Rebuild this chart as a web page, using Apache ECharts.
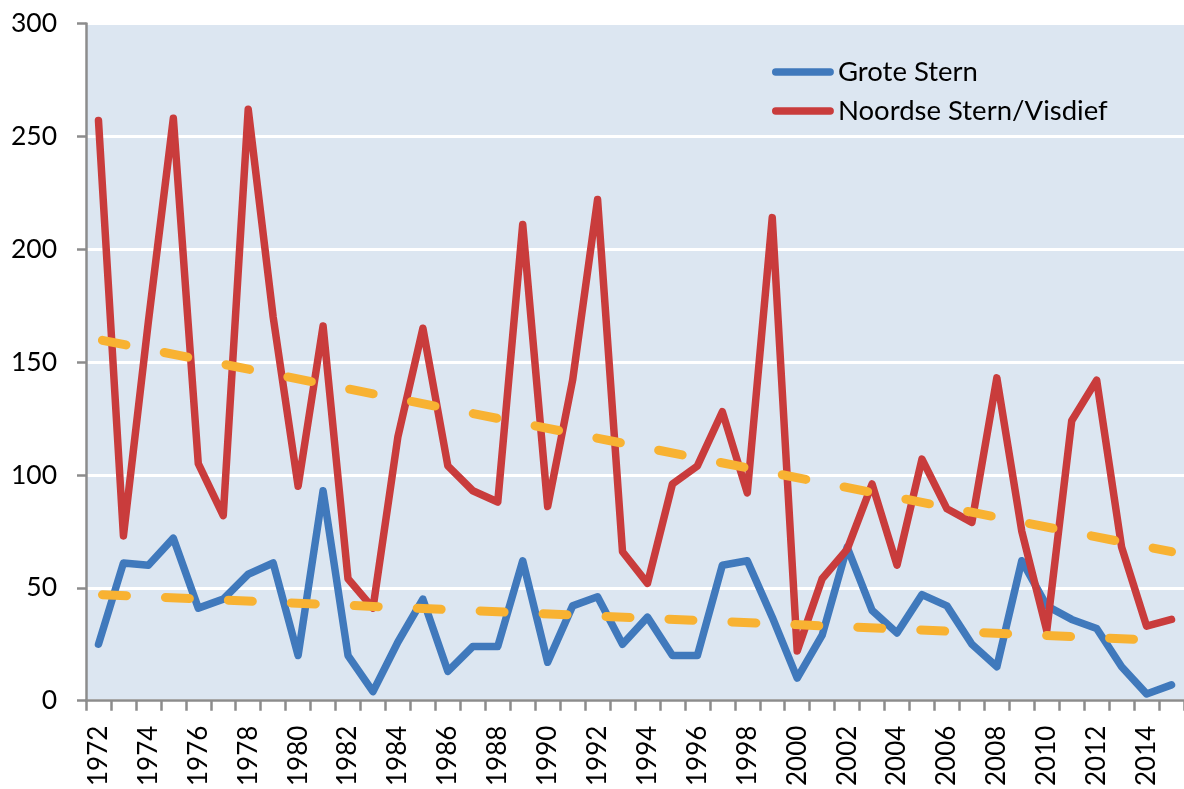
<!DOCTYPE html>
<html>
<head>
<meta charset="utf-8">
<script src="https://cdn.jsdelivr.net/npm/echarts@6/dist/echarts.min.js"></script>
<style>
html,body{margin:0;padding:0;background:#fff;}
#chart{width:1184px;height:789px;}
</style>
</head>
<body>
<div id="chart"></div>
<script>
var years = [];
for (var y = 1972; y <= 2015; y++) years.push(String(y));

var groteStern = [25, 61, 60, 72, 41, 45, 56, 61, 20, 93, 20, 4, 26, 45, 13, 24, 24, 62, 17, 42, 46, 25, 37, 20, 20, 60, 62, 37, 10, 29, 68, 40, 30, 47, 42, 25, 15, 62, 42, 36, 32, 15, 3, 7];
var noordseStern = [257, 73, 168, 258, 105, 82, 262, 170, 95, 166, 54, 41, 117, 165, 104, 93, 88, 211, 86, 142, 222, 66, 52, 96, 104, 128, 92, 214, 22, 54, 67, 96, 60, 107, 85, 79, 143, 75, 31, 124, 142, 68, 33, 36];
var trendGrote = [['1972', 47], ['2015', 26.5]];
var trendNoordse = [['1972', 160], ['2015', 66]];
var yTicks = [0, 50, 100, 150, 200, 250, 300];

var FONT = 'Lato, "Open Sans", sans-serif';
var BLUE = '#4079BC', RED = '#C93C3C', ORANGE = '#F8B232';
var CAPSULE = 'path://M4,0 L62,0 A4,4 0 0 1 62,8 L4,8 A4,4 0 0 1 4,0 Z';
var chart = echarts.init(document.getElementById('chart'), null, {renderer: 'canvas'});

var trendStyle = {
  color: ORANGE,
  width: 9,
  type: [24, 39],
  dashOffset: -4,
  cap: 'round'
};

chart.setOption({
  animation: false,
  backgroundColor: '#ffffff',
  grid: {
    left: 86, right: 0, top: 23.5, bottom: 87,
    show: true, backgroundColor: '#DCE6F1', borderWidth: 0,
    containLabel: false
  },
  legend: {
    data: [
      {name: 'Grote Stern', icon: CAPSULE, itemStyle: {color: BLUE}},
      {name: 'Noordse Stern/Visdief', icon: CAPSULE, itemStyle: {color: RED}}
    ],
    orient: 'vertical',
    left: 767, top: 53,
    itemWidth: 66, itemHeight: 7.5, itemGap: 11,
    textStyle: {fontFamily: FONT, fontSize: 27.5, lineHeight: 28, color: '#000', padding: [0, 0, 0, -3]}
  },
  xAxis: {
    type: 'category',
    data: years,
    boundaryGap: true,
    axisLine: {show: true, lineStyle: {color: '#8C8C8C', width: 2.5}},
    axisTick: {show: true, interval: 0, length: 10, lineStyle: {color: '#8C8C8C', width: 2.5}},
    axisLabel: {
      interval: 1, rotate: 90, margin: 25,
      fontFamily: FONT, fontSize: 26, color: '#000'
    },
    splitLine: {show: false}
  },
  yAxis: {
    type: 'value',
    min: 0, max: 300, interval: 50,
    axisLine: {show: true, lineStyle: {color: '#8C8C8C', width: 2.5}},
    axisTick: {show: true, length: 9, lineStyle: {color: '#8C8C8C', width: 2.5}},
    axisLabel: {
      margin: 29, fontFamily: FONT, fontSize: 26.5, color: '#000',
      formatter: function (v) { return yTicks.indexOf(v) >= 0 ? String(v) : ''; }
    },
    splitLine: {show: true, lineStyle: {color: '#ffffff', width: 3}}
  },
  series: [
    {
      name: 'Grote Stern', type: 'line', data: groteStern,
      symbol: 'none', showSymbol: false,
      lineStyle: {color: BLUE, width: 7.5, join: 'round', cap: 'round'},
      itemStyle: {color: BLUE}, z: 2
    },
    {
      name: 'Noordse Stern/Visdief', type: 'line', data: noordseStern,
      symbol: 'none', showSymbol: false,
      lineStyle: {color: RED, width: 7.5, join: 'round', cap: 'round'},
      itemStyle: {color: RED}, z: 3
    },
    {
      name: 'Trend Grote Stern', type: 'line', data: trendGrote,
      symbol: 'none', showSymbol: false, silent: true,
      lineStyle: trendStyle, itemStyle: {color: ORANGE}, z: 4
    },
    {
      name: 'Trend Noordse Stern', type: 'line', data: trendNoordse,
      symbol: 'none', showSymbol: false, silent: true,
      lineStyle: trendStyle, itemStyle: {color: ORANGE}, z: 4
    }
  ]
});
</script>
</body>
</html>
